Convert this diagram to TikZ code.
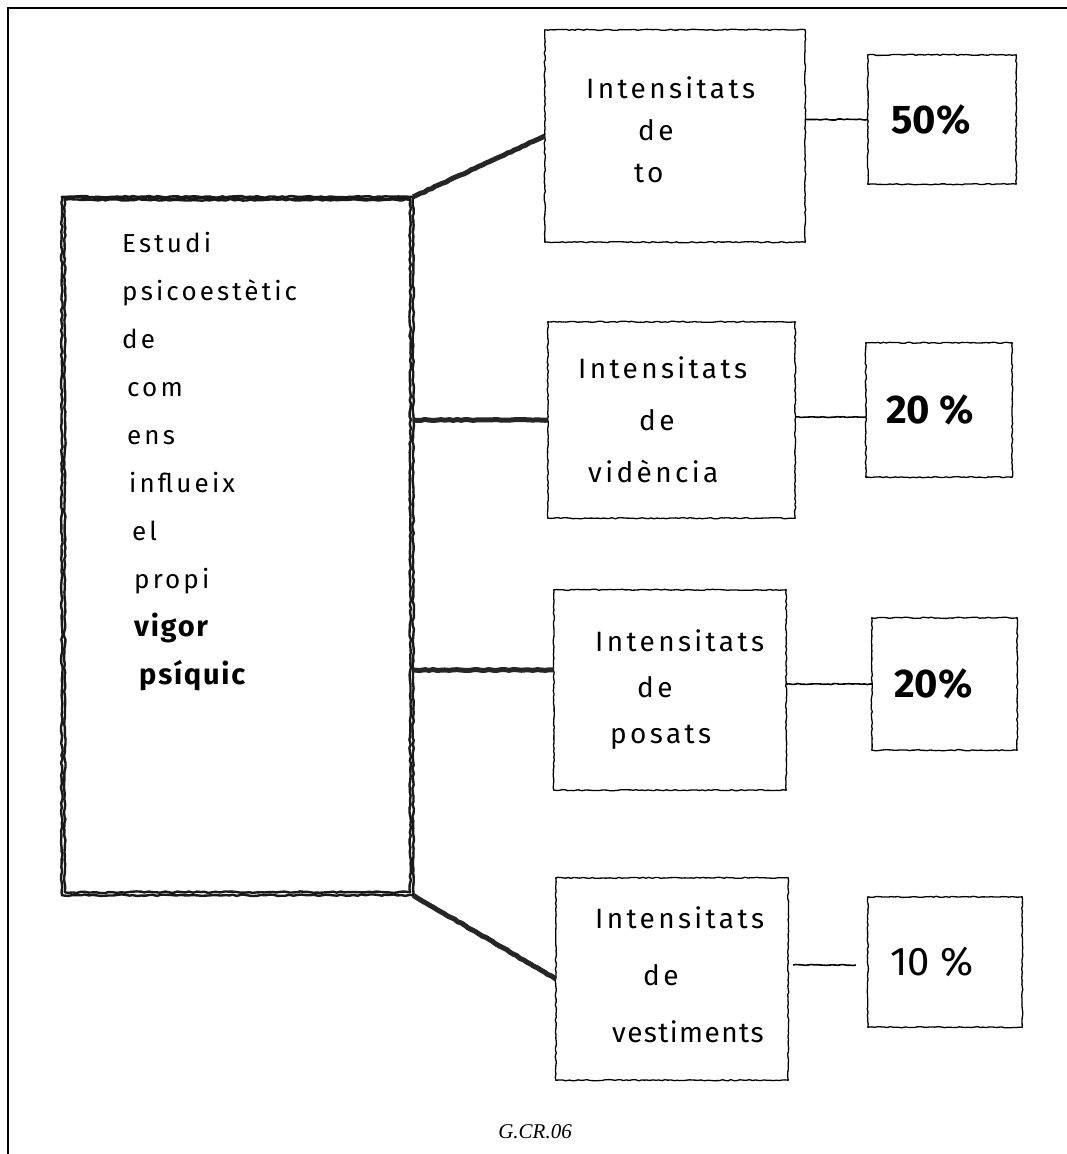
\documentclass[tikz,border=0pt]{standalone}
\usepackage{fontspec}
\setmainfont{Liberation Serif}
\newfontfamily\hand[LetterSpace=12]{Fira Sans}
\newfontfamily\handnum{Fira Sans}
\usetikzlibrary{decorations.pathmorphing,calc}
\begin{document}
\begin{tikzpicture}[x=1pt,y=-1pt,
  frame/.style={draw=none, rectangle, inner sep=0pt},
  sketch/.style={decorate, decoration={random steps, segment length=3pt, amplitude=0.6pt}, line width=1.3pt, line join=round},
  mainline/.style={decorate, decoration={random steps, segment length=4pt, amplitude=0.8pt}, line width=2.4pt, line join=round, draw=black!90},
  thicklink/.style={decorate, decoration={random steps, segment length=4pt, amplitude=0.5pt}, line width=5pt, draw=black!85},
  thinlink/.style={decorate, decoration={random steps, segment length=3pt, amplitude=0.5pt}, line width=1.6pt},
  boxtext/.style={align=left, inner sep=0pt, anchor=north west},
  pct/.style={font=\handnum\fontsize{40}{44}\selectfont, inner sep=0pt},
]
\pgfmathsetseed{7}
\useasboundingbox (0,0) rectangle (1066,1154);
\fill[white] (0,0) rectangle (1066,1154);

% outer frame (only left and top edges are visible)
\coordinate (fbl) at (8,1160);
\coordinate (ftl) at (8,8);
\coordinate (ftr) at (1070,8);
\draw[line width=1.6pt] (fbl) -- (ftl) -- (ftr);

% main box
\node[frame, minimum width=351pt, minimum height=698pt] (main) at (237.5,546) {};
\draw[mainline] (main.south west) rectangle (main.north east);
\draw[mainline] ([shift={(3pt,-3pt)}]main.north west) rectangle ([shift={(-3pt,3pt)}]main.south east);
\draw[mainline] ([shift={(2pt,-1pt)}]main.north west) -- ([shift={(-2pt,-2pt)}]main.north east);

\node[font=\hand\fontsize{26}{48}\selectfont, align=left, inner sep=0pt, anchor=north west] (maintext) at (122,232)
 {Estudi\\
  psicoestètic\\
  de\\
  \hspace*{5pt}com\\
  \hspace*{5pt}ens\\
  \hspace*{7pt}influeix\\
  \hspace*{10pt}el\\
  \hspace*{12pt}propi\\
  \hspace*{12pt}{\fontsize{29}{48}\selectfont\bfseries\addfontfeature{LetterSpace=6}vigor}\\
  \hspace*{17pt}{\fontsize{29}{48}\selectfont\bfseries\addfontfeature{LetterSpace=6}psíquic}};

% middle boxes
\node[frame, minimum width=260pt, minimum height=212pt] (b1) at (675,136) {};
\node[frame, minimum width=247pt, minimum height=196pt] (b2) at (671.5,420) {};
\node[frame, minimum width=232pt, minimum height=200pt] (b3) at (670,690) {};
\node[frame, minimum width=232pt, minimum height=202pt] (b4) at (672,979) {};
\foreach \b in {b1,b2,b3,b4}
  \draw[sketch] (\b.south west) rectangle (\b.north east);

\node[boxtext, font=\hand\fontsize{28}{42}\selectfont] (b1t) at (586,76)
 {Intensitats\\\hspace*{52pt}de\\\hspace*{48pt}to};
\node[boxtext, font=\hand\fontsize{28}{52}\selectfont] (b2t) at (578,356)
 {Intensitats\\\hspace*{61pt}de\\\hspace*{10pt}vidència};
\node[boxtext, font=\hand\fontsize{28}{46}\selectfont] (b3t) at (595,629)
 {Intensitats\\\hspace*{42pt}de\\\hspace*{15pt}posats};
\node[boxtext, font=\hand\fontsize{28}{57}\selectfont] (b4t) at (595,906)
 {Intensitats\\\hspace*{48pt}de\\\hspace*{17pt}{\addfontfeature{LetterSpace=5}vestiments}};

% percentage boxes
\node[frame, minimum width=148pt, minimum height=129pt] (p1) at (942,119.5) {};
\node[frame, minimum width=146pt, minimum height=134pt] (p2) at (939,410) {};
\node[frame, minimum width=145pt, minimum height=132pt] (p3) at (944.5,684) {};
\node[frame, minimum width=154pt, minimum height=130pt] (p4) at (945,962) {};
\foreach \p in {p1,p2,p3,p4}
  \draw[sketch] (\p.south west) rectangle (\p.north east);

\node[pct, font=\handnum\fontsize{40}{44}\selectfont\bfseries] (p1t) at ([xshift=-11pt]p1.center) {50\%};
\node[pct, font=\handnum\fontsize{40}{44}\selectfont\bfseries] (p2t) at ([xshift=-9pt]p2.center) {20 \%};
\node[pct, font=\handnum\fontsize{40}{44}\selectfont\bfseries] (p3t) at ([xshift=-11pt]p3.center) {20\%};
\node[pct] (p4t) at ([xshift=-13pt]p4.center) {10 \%};

% thick connectors from main box
\draw[thicklink] (main.north east) -- (b1.west);
\draw[thicklink] (b2.west -| main.east) -- (b2.west);
\draw[thicklink] ($(b3.west -| main.east)+(0,-20)$) -- ($(b3.west)+(0,-20)$);
\draw[thicklink] (main.south east) -- (b4.west);

% thin connectors to percentages
\draw[thinlink] (p1.west -| b1.east) -- (p1.west);
\draw[thinlink] ($(p2.west -| b2.east)+(0,7)$) -- ($(p2.west)+(0,7)$);
\draw[thinlink] (p3.west -| b3.east) -- (p3.west);
\draw[thinlink] ($(p4.west -| b4.east)+(5,3)$) -- ($(p4.west)+(-12,3)$);

% caption
\node[font=\itshape\fontsize{21}{24}\selectfont, inner sep=0pt] (cap) at (535,1132) {G.CR.06};
\end{tikzpicture}
\end{document}
